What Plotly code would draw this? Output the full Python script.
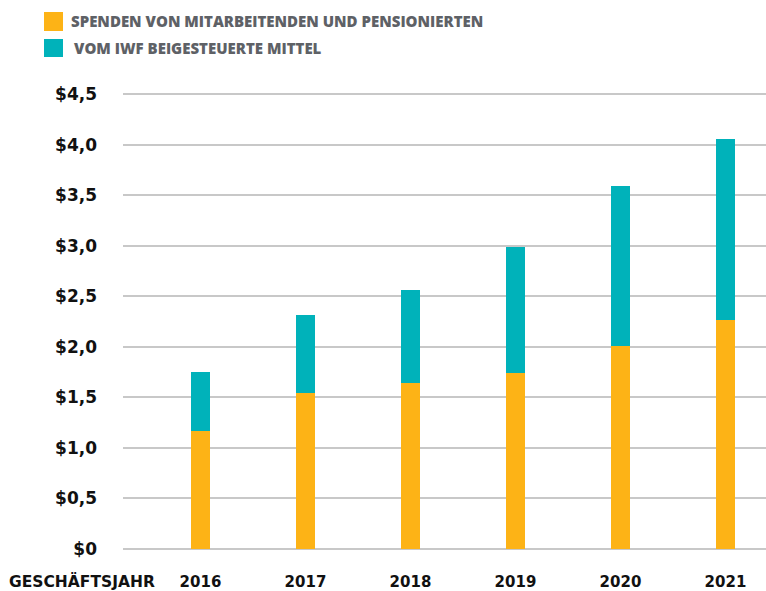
import plotly.graph_objects as go

years = ["2016", "2017", "2018", "2019", "2020", "2021"]
spenden = [1.17, 1.54, 1.64, 1.74, 2.01, 2.27]
iwf = [0.58, 0.77, 0.92, 1.25, 1.58, 1.79]
y_ticks = [0, 0.5, 1.0, 1.5, 2.0, 2.5, 3.0, 3.5, 4.0, 4.5]
y_ticktext = ["$0", "$0,5", "$1,0", "$1,5", "$2,0", "$2,5", "$3,0", "$3,5", "$4,0", "$4,5"]
legend_labels = ["SPENDEN VON MITARBEITENDEN UND PENSIONIERTEN", "VOM IWF BEIGESTEUERTE MITTEL"]
colors = ["#FDB316", "#00B2BA"]

W, H = 766, 591
ML, MR, MT, MB = 123, 0, 84, 42
PW, PH = W - ML - MR, H - MT - MB

def px_x(p):
    return (p - ML) / PW

def px_y(p):
    return (H - MB - p) / PH

fig = go.Figure()
fig.add_trace(go.Bar(x=years, y=spenden, marker_color=colors[0], width=0.181,
                     name=legend_labels[0], showlegend=False, marker_line_width=0))
fig.add_trace(go.Bar(x=years, y=iwf, marker_color=colors[1], width=0.181,
                     name=legend_labels[1], showlegend=False, marker_line_width=0))

fig.update_layout(
    barmode="stack",
    width=W, height=H,
    margin=dict(l=ML, r=MR, t=MT, b=MB, pad=0),
    plot_bgcolor="white", paper_bgcolor="white",
    xaxis=dict(type="category", range=[-0.738, 5.386], showgrid=False, showline=False,
               ticks="", ticklabelstandoff=22,
               tickfont=dict(family="DejaVu Sans", size=15, color="#111111", weight="bold")),
    yaxis=dict(range=[0, 4.6], tickvals=y_ticks, ticktext=y_ticktext, showgrid=True,
               gridcolor="#c8c8c8", gridwidth=1.5, zeroline=True, zerolinecolor="#c8c8c8",
               zerolinewidth=1.5, showline=False, ticks="", ticklabelstandoff=25,
               tickfont=dict(family="DejaVu Sans", size=17, color="#111111", weight="bold")),
)

# manual legend
sq = [(12, 31), (39, 57)]
txt_y = [21.5, 48]
txt_x = [69, 72]
for i in range(2):
    fig.add_shape(type="rect", xref="paper", yref="paper",
                  x0=px_x(44), x1=px_x(63), y0=px_y(sq[i][1]), y1=px_y(sq[i][0]),
                  fillcolor=colors[i], line_width=0)
    fig.add_annotation(xref="paper", yref="paper", x=px_x(txt_x[i]), y=px_y(txt_y[i]),
                       text=legend_labels[i], showarrow=False, xanchor="left", yanchor="middle",
                       font=dict(family="Open Sans", size=15, color="#5e6166", weight=800))

fig.add_annotation(xref="paper", yref="paper", x=px_x(82), y=px_y(581),
                   text="GESCHÄFTSJAHR", showarrow=False, xanchor="center", yanchor="middle",
                   font=dict(family="DejaVu Sans", size=15.5, color="#111111", weight="bold"))

fig.write_html("out.html", config={"displayModeBar": False},
               post_script="document.body.style.margin='0px';document.body.style.overflow='hidden';")
